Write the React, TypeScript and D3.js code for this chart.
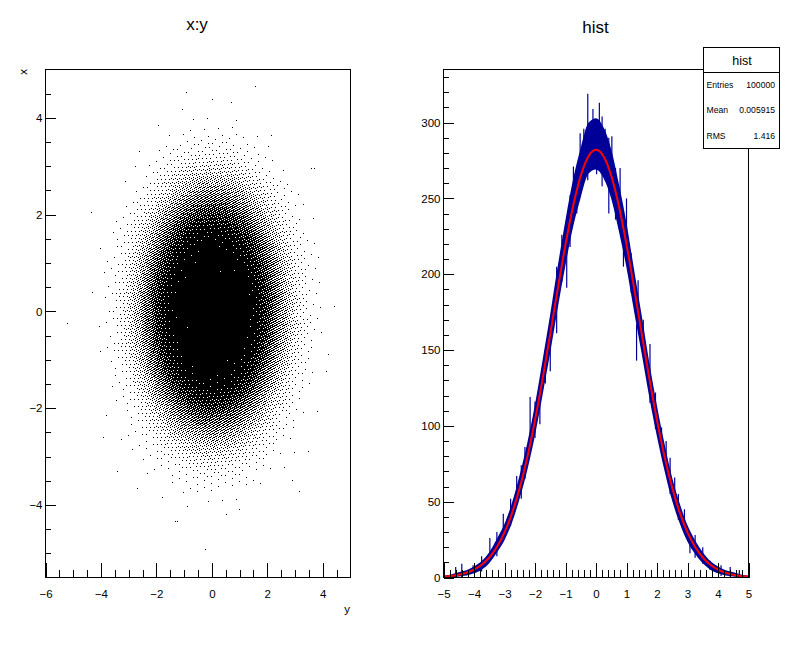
import React, { useEffect, useRef } from 'react';
import * as d3 from 'd3';

const WIDTH = 796;
const HEIGHT = 648;
const FONT = '"Liberation Sans", Arial, Helvetica, sans-serif';

// ---- left pad: x:y scatter ----
// counts per 0.25 bin from -5 to 5, estimated from the dot density
const scatterBinStart = -5;
const scatterBinStep = 0.25;
const xBinCounts = [
  0.07, 0.24, 0.7, 2.1, 5.6, 14, 35, 77, 163, 323, 600, 1060, 1730, 2670, 3880, 5310, 6790, 8190, 9280, 9870,
  9870, 9280, 8190, 6790, 5310, 3880, 2670, 1730, 1060, 600, 323, 163, 77, 35, 14, 5.6, 2.1, 0.7, 0.24, 0.07,
]; // vertical axis (x)
const yBinCounts = [
  0.07, 0.25, 0.8, 2.2, 5.8, 14, 36, 78, 165, 325, 602, 1062, 1732, 2668, 3878, 5306, 6786, 8186, 9278, 9870,
  9870, 9282, 8194, 6794, 5314, 3882, 2672, 1728, 1058, 598, 321, 161, 76, 34, 14, 5.4, 2.0, 0.7, 0.23, 0.07,
]; // horizontal axis (y)
const scatterEntries = 100000;
// isolated far points, [y, x]
const scatterOutliers: [number, number][] = [
  [-0.23, -4.93], [-1.3, -4.35], [-0.92, 4.52], [0.02, 4.37], [-5.2, -0.25],
  [3.7, 2.96], [-4.0, 1.3], [4.2, -0.9], [-3.9, -2.6], [1.0, -4.1], [0.9, 3.95],
  [-3.4, -3.3], [2.9, -3.5], [-2.6, 3.3], [3.3, 2.2], [-4.3, 0.4],
];

// ---- right pad: hist ----
const histX = [
  -5, -4.75, -4.5, -4.25, -4, -3.75, -3.5, -3.25, -3, -2.75, -2.5, -2.25, -2, -1.75, -1.5, -1.25, -1, -0.75, -0.5, -0.25,
  0, 0.25, 0.5, 0.75, 1, 1.25, 1.5, 1.75, 2, 2.25, 2.5, 2.75, 3, 3.25, 3.5, 3.75, 4, 4.25, 4.5, 4.75, 5,
];
const histCounts = [
  0.5, 1, 2, 3, 5, 8, 13, 21, 30, 43, 60, 80, 104, 132, 161, 192, 221, 247, 267, 283,
  286, 280, 266, 244, 219, 189, 160, 130, 103, 79, 58, 42, 29, 20, 13, 8, 5, 3, 2, 1, 0.5,
];
const fitValues = [
  0.5, 1.0, 1.8, 3.1, 5.2, 8.4, 13.2, 20.1, 29.7, 42.6, 59.1, 79.5, 103.7, 131.1, 160.7, 190.8, 219.6, 245.0, 264.9, 277.6,
  282, 277.6, 264.9, 245.0, 219.6, 190.8, 160.7, 131.1, 103.7, 79.5, 59.1, 42.6, 29.7, 20.1, 13.2, 8.4, 5.2, 3.1, 1.8, 1.0, 0.5,
];
// error-bar spikes that stick out of the band, [x, low, high]
const histSpikes: [number, number, number][] = [
  [-4.6, 0, 7], [-4.4, 0, 9], [-4.03, 3, 8], [-3.75, 4, 14], [-3.48, 16, 26], [-3.25, 14, 30], [-3.04, 31, 42],
  [-2.8, 34, 52], [-2.6, 49, 67], [-2.45, 52, 74], [-2.33, 65, 86], [-2.16, 94, 119], [-2.0, 92, 116],
  [-1.84, 101, 119], [-1.66, 128, 150], [-1.5, 136, 168], [-1.29, 161, 205], [-1.12, 195, 226], [-0.96, 191, 235],
  [-0.85, 218, 252], [-0.74, 247, 271], [-0.63, 240, 262], [-0.52, 267, 293], [-0.4, 262, 296],
  [-0.27, 262, 319], [-0.18, 270, 300], [-0.1, 272, 309], [0.02, 266, 298], [0.11, 268, 313], [0.2, 258, 304],
  [0.3, 262, 296], [0.42, 240, 290], [0.52, 252, 291], [0.64, 236, 270], [0.79, 238, 270], [0.9, 205, 222],
  [1.0, 220, 250], [1.15, 188, 214], [1.33, 143, 167], [1.38, 181, 196], [1.55, 146, 170], [1.77, 115, 154],
  [1.95, 98, 122], [2.15, 82, 99], [2.3, 70, 90], [2.43, 55, 79], [2.58, 48, 66], [2.7, 38, 55],
  [2.9, 30, 45], [3.08, 16, 29], [3.25, 13, 28], [3.5, 9, 20], [3.74, 5, 11], [4.1, 1, 8], [4.4, 0, 7], [4.7, 0, 5],
];
const statsRows = [
  ['Entries', '100000'],
  ['Mean', '0.005915'],
  ['RMS', '1.416'],
];

// smooth density (per unit) through the bin centres, log-linear between them
function densityFn(counts: number[], start: number, step: number) {
  const total = d3.sum(counts);
  const logD = counts.map(c => Math.log(c / total / step));
  return (v: number) => {
    const t = (v - start) / step - 0.5;
    if (t < -0.5 || t > counts.length - 0.5) return 0;
    const i0 = Math.max(0, Math.min(counts.length - 2, Math.floor(t)));
    const f = Math.max(0, Math.min(1, t - i0));
    return Math.exp(logD[i0] * (1 - f) + logD[i0 + 1] * f);
  };
}

export default function App() {
  const svgRef = useRef<SVGSVGElement>(null);

  useEffect(() => {
    if (!svgRef.current) return;
    const svg = d3.select(svgRef.current);
    svg.selectAll('*').remove();

    svg.append('rect').attr('width', WIDTH).attr('height', HEIGHT).attr('fill', '#fff');

    // ---------- left pad ----------
    const L = { left: 45.5, right: 350.5, top: 69.5, bottom: 577.5 };
    const xS = d3.scaleLinear().domain([-6, 5]).range([L.left, L.right]);
    const yS = d3.scaleLinear().domain([-5.5, 5]).range([L.bottom, L.top]);

    // the 1px dots are rendered as a dithered density map of the marginals
    const fx = densityFn(xBinCounts, scatterBinStart, scatterBinStep);
    const fy = densityFn(yBinCounts, scatterBinStart, scatterBinStep);
    const a1 = 0.7548776662466927;
    const a2 = 0.5698402909980532;
    let d = '';
    for (let py = 70; py < 577; py++) {
      const xv0 = yS.invert(py);
      const xv1 = yS.invert(py + 1);
      const dens = fx((xv0 + xv1) / 2) * Math.abs(xv0 - xv1);
      if (dens <= 0) continue;
      for (let px = 46; px < 350; px++) {
        const yv0 = xS.invert(px);
        const yv1 = xS.invert(px + 1);
        const lambda = scatterEntries * dens * fy((yv0 + yv1) / 2) * (yv1 - yv0);
        const p = 1 - Math.exp(-lambda);
        const t = (0.5 + px * a1 + py * a2) % 1;
        if (t < p) d += `M${px},${py}h1v1h-1z`;
      }
    }
    scatterOutliers.forEach(([yv, xv]) => {
      d += `M${Math.floor(xS(yv))},${Math.floor(yS(xv))}h1v1h-1z`;
    });
    svg.append('path').attr('d', d).attr('fill', '#000').attr('shape-rendering', 'crispEdges');

    const styleAxis = (sel: d3.Selection<SVGGElement, unknown, null, undefined>) => {
      sel.select('.domain').remove();
      sel.selectAll('.tick line').attr('stroke', '#000').attr('shape-rendering', 'crispEdges');
      sel.selectAll('text').attr('fill', '#000').attr('font-size', '11.5px').attr('font-family', FONT);
    };

    // x axis (y variable)
    svg.append('g')
      .attr('transform', `translate(0,${L.bottom})`)
      .call(d3.axisBottom(xS).tickValues(d3.range(-5.5, 5, 0.5).filter(t => Math.abs(t % 2) > 0.01)).tickSize(-8).tickFormat(() => ''))
      .call(styleAxis);
    svg.append('g')
      .attr('transform', `translate(0,${L.bottom})`)
      .call(d3.axisBottom(xS).tickValues([-6, -4, -2, 0, 2, 4]).tickSize(-15).tickPadding(12).tickFormat(d3.format('d')))
      .call(styleAxis);
    // y axis (x variable)
    svg.append('g')
      .attr('transform', `translate(${L.left},0)`)
      .call(d3.axisLeft(yS).tickValues(d3.range(-5, 5, 0.5).filter(t => Math.abs(t % 2) > 0.01)).tickSize(-5).tickFormat(() => ''))
      .call(styleAxis);
    svg.append('g')
      .attr('transform', `translate(${L.left},0)`)
      .call(d3.axisLeft(yS).tickValues([-4, -2, 0, 2, 4]).tickSize(-10).tickPadding(3).tickFormat(d3.format('d')))
      .call(styleAxis);

    svg.append('rect')
      .attr('x', L.left).attr('y', L.top)
      .attr('width', L.right - L.left).attr('height', L.bottom - L.top)
      .attr('fill', 'none').attr('stroke', '#000').attr('shape-rendering', 'crispEdges');

    svg.append('text')
      .attr('x', 197).attr('y', 29.5).attr('text-anchor', 'middle')
      .attr('font-size', '17px').attr('font-family', FONT).text('x:y');
    svg.append('text')
      .attr('x', 350).attr('y', 613).attr('text-anchor', 'end')
      .attr('font-size', '11.5px').attr('font-family', FONT).text('y');
    svg.append('text')
      .attr('transform', 'translate(27,69) rotate(-90)').attr('text-anchor', 'end')
      .attr('font-size', '11.5px').attr('font-family', FONT).text('x');

    // ---------- right pad ----------
    const R = { left: 443.5, right: 748.5, top: 69.5, bottom: 577.5 };
    const hx = d3.scaleLinear().domain([-5, 5]).range([R.left, R.right]);
    const hy = d3.scaleLinear().domain([0, 335]).range([R.bottom, R.top]);

    const plot = svg.append('g');
    const pts = histX.map((x, i) => ({ x, c: histCounts[i], f: fitValues[i] }));
    const band = d3.area<{ x: number; c: number }>()
      .x(p => hx(p.x))
      .y0(p => hy(Math.max(0, p.c - Math.sqrt(p.c))))
      .y1(p => hy(p.c + Math.sqrt(p.c)))
      .curve(d3.curveMonotoneX);
    plot.append('path').attr('d', band(pts)).attr('fill', '#000099');
    plot.append('path')
      .attr('d', d3.line<{ x: number; c: number }>().x(p => hx(p.x)).y(p => hy(p.c)).curve(d3.curveMonotoneX)(pts))
      .attr('fill', 'none').attr('stroke', '#000099').attr('stroke-width', 1.5);
    plot.selectAll('.spike')
      .data(histSpikes)
      .enter()
      .append('line')
      .attr('x1', s => hx(s[0])).attr('x2', s => hx(s[0]))
      .attr('y1', s => hy(s[1])).attr('y2', s => hy(s[2]))
      .attr('stroke', '#000099').attr('stroke-width', 1.2);
    plot.append('path')
      .attr('d', d3.line<{ x: number; f: number }>().x(p => hx(p.x)).y(p => hy(p.f)).curve(d3.curveMonotoneX)(pts))
      .attr('fill', 'none').attr('stroke', '#ff0000').attr('stroke-width', 2);

    svg.append('g')
      .attr('transform', `translate(0,${R.bottom})`)
      .call(d3.axisBottom(hx).tickValues(d3.range(-4.8, 5, 0.2).filter(t => Math.abs(t - Math.round(t)) > 0.01)).tickSize(-8).tickFormat(() => ''))
      .call(styleAxis);
    svg.append('g')
      .attr('transform', `translate(0,${R.bottom})`)
      .call(d3.axisBottom(hx).tickValues(d3.range(-5, 5.01, 1)).tickSize(-15).tickPadding(12).tickFormat(d3.format('d')))
      .call(styleAxis);
    svg.append('g')
      .attr('transform', `translate(${R.left},0)`)
      .call(d3.axisLeft(hy).tickValues(d3.range(10, 335, 10).filter(t => t % 50 !== 0)).tickSize(-5).tickFormat(() => ''))
      .call(styleAxis);
    svg.append('g')
      .attr('transform', `translate(${R.left},0)`)
      .call(d3.axisLeft(hy).tickValues(d3.range(0, 301, 50)).tickSize(-10).tickPadding(3).tickFormat(d3.format('d')))
      .call(styleAxis);

    svg.append('rect')
      .attr('x', R.left).attr('y', R.top)
      .attr('width', R.right - R.left).attr('height', R.bottom - R.top)
      .attr('fill', 'none').attr('stroke', '#000').attr('shape-rendering', 'crispEdges');

    svg.append('text')
      .attr('x', 595.5).attr('y', 33).attr('text-anchor', 'middle')
      .attr('font-size', '17px').attr('font-family', FONT).text('hist');

    // stats box
    const stats = svg.append('g');
    stats.append('rect')
      .attr('x', 703.5).attr('y', 47.5).attr('width', 76).attr('height', 101)
      .attr('fill', '#fff').attr('stroke', '#000').attr('shape-rendering', 'crispEdges');
    stats.append('line')
      .attr('x1', 703.5).attr('x2', 779.5).attr('y1', 72.5).attr('y2', 72.5)
      .attr('stroke', '#000').attr('shape-rendering', 'crispEdges');
    stats.append('text')
      .attr('x', 742).attr('y', 64.5).attr('text-anchor', 'middle')
      .attr('font-size', '12.5px').attr('font-family', FONT).text('hist');
    statsRows.forEach(([label, value], i) => {
      const y = 87.5 + i * 25.5;
      stats.append('text').attr('x', 706.5).attr('y', y)
        .attr('font-size', '8.6px').attr('font-family', FONT).text(label);
      stats.append('text').attr('x', 775).attr('y', y).attr('text-anchor', 'end')
        .attr('font-size', '8.6px').attr('font-family', FONT).text(value);
    });
  }, []);

  return (
    <svg
      ref={svgRef}
      width={WIDTH}
      height={HEIGHT}
      style={{ position: 'absolute', left: 0, top: 0, display: 'block' }}
    />
  );
}
